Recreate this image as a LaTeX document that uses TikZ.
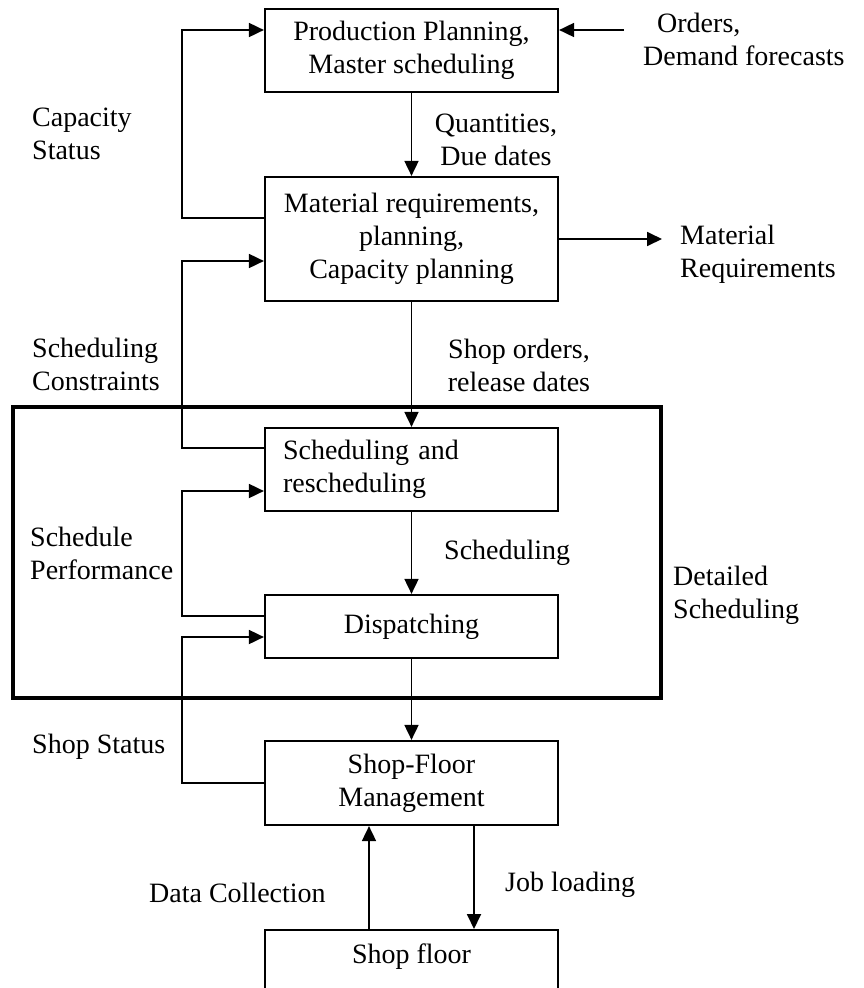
\documentclass[tikz,border=0pt]{standalone}
\usepackage{fontspec}
\setmainfont{Liberation Serif}
\usetikzlibrary{arrows.meta}
\begin{document}
\begin{tikzpicture}[x=1pt,y=-1pt,
  every node/.style={font=\fontsize{28}{33}\selectfont},
  box/.style={draw, line width=2.2pt, minimum width=293pt, inner sep=0pt, align=center},
  flow/.style={line width=1.8pt, -{Triangle[length=15pt,width=14pt]}},
  wire/.style={line width=1.8pt},
  lbl/.style={align=left, anchor=west, inner sep=0pt},
  clbl/.style={align=center, inner sep=0pt}]
\useasboundingbox (0,0) rectangle (864,988);
\clip (0,0) rectangle (864,988);

% detailed scheduling frame
\node[draw, line width=4.5pt, minimum width=648pt, minimum height=291pt, inner sep=0pt] (frame) at (337,552.5) {};

% process boxes
\node[box, minimum height=83pt] (prod) at (411.5,50.5) {Production Planning,\\Master scheduling};
\node[box, minimum height=124pt] (mrp) at (411.5,239) {Material requirements,\\planning,\\Capacity planning};
\node[box, minimum height=83pt, align=left, text width=257pt, inner xsep=18pt] (sched) at (411.5,469.5) {Scheduling and\\rescheduling};
\node[box, minimum height=63pt] (disp) at (411.5,626.5) {Dispatching};
\node[box, minimum height=84pt] (sfm) at (411.5,783) {Shop-Floor\\Management};
\node[box, minimum height=120pt, anchor=north] (floor) at (411.5,929) {};
\node (floortxt) at (411.5,957) {Shop floor};

% labels
\node[lbl] (orders) at (643,39) {\hspace*{14pt}Orders,\\Demand forecasts};
\node[clbl] (qty) at (496,140) {Quantities,\\Due dates};
\node[lbl] (cap) at (32,134) {Capacity\\Status};
\node[lbl] (matreq) at (680,254) {Material\\Requirements};
\node[lbl] (cons) at (32,364) {Scheduling\\Constraints};
\node[clbl] (shopord) at (519,365) {Shop orders,\\release dates};
\node[lbl] (perf) at (30,553) {Schedule\\Performance};
\node[lbl] (schedlbl) at (444,553) {Scheduling};
\node[lbl] (detail) at (673,595) {Detailed\\Scheduling};
\node[lbl] (shopstat) at (32,747) {Shop Status};
\node[lbl] (datacol) at (149,893) {Data Collection};
\node[lbl] (jobload) at (505,885) {Job loading};

% connector end points and loop corners
\coordinate (ordin) at (624,30);
\coordinate (matout) at (662,239);
\coordinate (capA) at (182,218);
\coordinate (conA) at (182,448);
\coordinate (conB) at (182,261);
\coordinate (perfA) at (182,616);
\coordinate (perfB) at (182,491);
\coordinate (statA) at (182,783);
\coordinate (statB) at (182,637);
\coordinate (dcx) at (369,870);
\coordinate (jlx) at (474,870);

% main flow
\draw[flow] (prod.south) -- (mrp.north);
\draw[flow] (mrp.south) -- (sched.north);
\draw[flow] (sched.south) -- (disp.north);
\draw[flow] (disp.south) -- (sfm.north);
\draw[flow] (ordin) -- (ordin -| prod.east);
\draw[flow] (mrp.east) -- (matout);
\draw[flow] (dcx |- floor.north) -- (dcx |- sfm.south);
\draw[flow] (jlx |- sfm.south) -- (jlx |- floor.north);

% feedback loops
\draw[flow] (capA -| mrp.west) -- (capA) |- (ordin -| prod.west);
\draw[flow] (conA -| sched.west) -- (conA) -- (conB) -- (conB -| mrp.west);
\draw[flow] (perfA -| disp.west) -- (perfA) -- (perfB) -- (perfB -| sched.west);
\draw[flow] (sfm.west) -- (statA) -- (statB) -- (statB -| disp.west);
\end{tikzpicture}
\end{document}
